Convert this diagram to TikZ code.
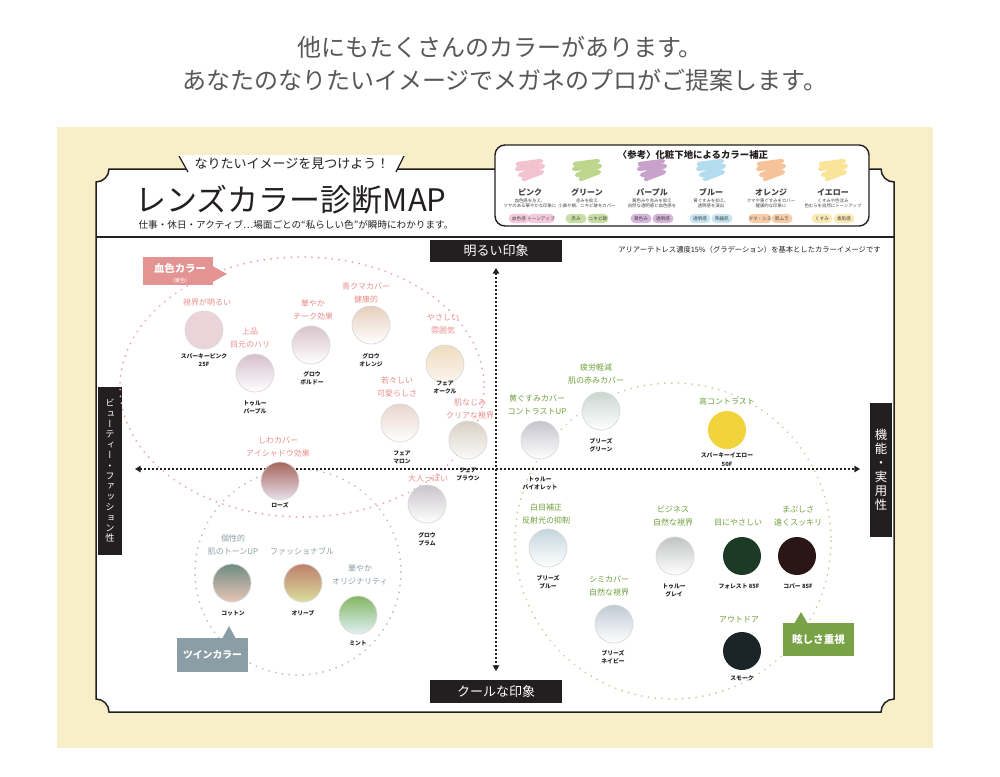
\documentclass[tikz,border=0pt]{standalone}
\usepackage{fontspec}
\setmainfont{Noto Sans CJK JP}
\newfontfamily\jpv[RawFeature=+vert]{Noto Sans CJK JP}
\usetikzlibrary{arrows.meta}
\newcommand\myfs[2]{\fontsize{#1pt}{#2pt}\selectfont}
\definecolor{ink}{HTML}{231F20}
\definecolor{cream}{HTML}{F8EEC8}
\definecolor{titlegray}{HTML}{595757}
\definecolor{pinkt}{HTML}{E98E8C}
\definecolor{grayt}{HTML}{8D9EA6}
\definecolor{greent}{HTML}{70A03C}
\definecolor{pinkbox}{HTML}{E39392}
\definecolor{graybox}{HTML}{8B9DA5}
\definecolor{greenbox}{HTML}{79A146}
\definecolor{pdotc}{HTML}{EFA2A4}
\definecolor{gdotc}{HTML}{B5BFC5}
\definecolor{ndotc}{HTML}{C9CFA2}
\definecolor{swP}{HTML}{F3C2D0}\definecolor{tgP}{HTML}{F4CADB}
\definecolor{swG}{HTML}{BCD68C}\definecolor{tgG}{HTML}{C8DEA4}
\definecolor{swU}{HTML}{C9A2CC}\definecolor{tgU}{HTML}{D5B5DA}
\definecolor{swB}{HTML}{B3DDEE}\definecolor{tgB}{HTML}{C5E6F2}
\definecolor{swO}{HTML}{F6C29A}\definecolor{tgO}{HTML}{F7CCA8}
\definecolor{swY}{HTML}{F9E49A}\definecolor{tgY}{HTML}{FAEAB5}
\newcommand\legcol[8]{%
  \draw[#3, line width=2.2pt, line join=round, line cap=round]
    (#2-12,164) -- (#2+11,161) -- (#2-13,169) -- (#2+13,166) -- (#2-10,175) -- (#2+12,172) -- (#2-6,179);
  \node[legname] (#1n) at (#2,192) {#5};
  \node[legdesc] (#1d) at (#2,203.5) {#6};
  \node[tag, fill=#4] (#1a) at (#2-11,218.5) {#7};
  \node[tag, fill=#4] (#1b) at (#2+11,218.5) {#8};
}
\begin{document}
\begin{tikzpicture}[x=0.5pt,y=-0.5pt,
  lens/.style={circle, minimum size=19pt, inner sep=0pt, draw=black!15, line width=0.35pt},
  lname/.style={font=\bfseries\myfs{2.9}{4}, align=center, text=black!85, inner sep=0pt},
  pcat/.style={font=\myfs{4}{6.5}, align=center, text=pinkt, inner sep=0pt},
  gcat/.style={font=\myfs{4}{6.5}, align=center, text=grayt, inner sep=0pt},
  ncat/.style={font=\myfs{4}{6.5}, align=center, text=greent, inner sep=0pt},
  legname/.style={font=\bfseries\myfs{4}{4}, text=ink!85, inner sep=0pt},
  legdesc/.style={font=\myfs{2.2}{2.7}, align=center, text=ink!85, inner sep=0pt},
  tag/.style={rounded corners=2.2pt, minimum width=10.4pt, minimum height=4.6pt, inner sep=0pt, font=\myfs{2.3}{2.3}, text=ink!85},
  blk/.style={fill=ink, text=white, inner sep=0pt},
  callbox/.style={inner sep=0pt, text=white},
  axis/.style={draw=ink, line width=0.6pt, dash pattern=on 0.6pt off 1.4pt},
  pdot/.style={draw=pdotc, line width=1pt, line cap=round, dash pattern=on 0.01pt off 3.4pt},
  gdot/.style={draw=gdotc, line width=1pt, line cap=round, dash pattern=on 0.01pt off 3.4pt},
  ndot/.style={draw=ndotc, line width=1pt, line cap=round, dash pattern=on 0.01pt off 3.4pt},
]
\useasboundingbox (0,0) rectangle (1000,776);
\fill[white] (0,0) rectangle (1000,776);
% top title
\node[font=\myfs{12}{12}, text=titlegray, inner sep=0pt] (t1) at (500,47) {他にもたくさんのカラーがあります。};
\node[font=\myfs{12}{12}, text=titlegray, inner sep=0pt] (t2) at (505,80) {あなたのなりたいイメージでメガネのプロがご提案します。};
% cream panel
\fill[cream] (57,127) rectangle (933,748);
% board
\draw[ink, line width=0.75pt, fill=white] (109,169) -- (881,169)
  .. controls (881,176.2) and (886.8,182) .. (894,182) -- (894,699)
  .. controls (886.8,699) and (881,704.8) .. (881,712) -- (109,712)
  .. controls (109,704.8) and (103.2,699) .. (96,699) -- (96,182)
  .. controls (103.2,182) and (109,176.2) .. (109,169) -- cycle;
% tab
\fill[white] (178,155) -- (405,155) -- (396,170.8) -- (187,170.8) -- cycle;
\draw[ink, line width=0.6pt] (179,156) -- (188,172);
\draw[ink, line width=0.6pt] (404,156) -- (396,172);
\draw[ink, line width=0.75pt] (96,237) -- (894,237);
% header texts
\node[font=\myfs{6.5}{6.5}, text=ink, inner sep=0pt] (h1) at (292,164) {なりたいイメージを見つけよう！};
\node[font=\myfs{15.5}{15.5}, text=ink, inner sep=0pt] (h2) at (291,200) {レンズカラー診断MAP};
\node[font=\myfs{4.8}{4.8}, text=ink, inner sep=0pt] (h3) at (296,225) {仕事・休日・アクティブ…場面ごとの“私らしい色”が瞬時にわかります。};
% legend
\draw[ink, line width=0.7pt, fill=white, rounded corners=5pt] (495,145) rectangle (869,226);
\node[font=\bfseries\myfs{4.7}{4.7}, text=ink, inner sep=0pt] (lgt) at (693,155) {〈参考〉化粧下地によるカラー補正};
\legcol{lp}{530}{swP}{tgP}{ピンク}{血色感を与え、\\ツヤのある華やかな印象に}{血色感}{トーンアップ}
\legcol{lg}{587}{swG}{tgG}{グリーン}{赤みを抑え\\小鼻や頬、ニキビ跡をカバー}{赤み}{ニキビ跡}
\legcol{lu}{652}{swU}{tgU}{パープル}{黄色みや赤みを抑え\\自然な透明感と血色感を}{黄色み}{透明感}
\legcol{lb}{711}{swB}{tgB}{ブルー}{黄ぐすみを抑え、\\透明感を演出}{透明感}{陶器肌}
\legcol{lo}{771}{swO}{tgO}{オレンジ}{クマや黄ぐすみをカバー\\健康的な印象に}{クマ・シミ}{肌ムラ}
\legcol{ly}{833}{swY}{tgY}{イエロー}{くすみや色沈み\\色むらを自然にトーンアップ}{くすみ}{素肌感}
% axis labels
\node[blk, minimum width=66pt, minimum height=11pt, font=\myfs{6.5}{6.5}] (ax1) at (496,251) {明るい印象};
\node[blk, minimum width=66pt, minimum height=11.5pt, font=\myfs{6.5}{6.5}] (ax2) at (496,691.5) {クールな印象};
\node[blk, minimum width=12pt, minimum height=84pt, font=\jpv\myfs{4.6}{5.2}, align=center] (ax3) at (110,471)
  {ビ\\ュ\\ー\\テ\\ィ\\ー\\・\\フ\\ァ\\ッ\\シ\\ョ\\ン\\性};
\node[blk, minimum width=11pt, minimum height=67pt, font=\myfs{6.2}{7}, align=center] (ax4) at (881,470)
  {機\\能\\・\\実\\用\\性};
\node[anchor=east, font=\myfs{3.65}{3.65}, text=ink, inner sep=0pt] (note) at (881,250)
  {アリアーテトレス濃度15\%（グラデーション）を基本としたカラーイメージです};
% dotted groups
\draw[pdot] (302,387) ellipse (182 and 130);
\draw[gdot] (298,572) circle (103);
\draw[ndot] (673,541) circle (158);
% axes
\coordinate (vt) at (496,268);
\coordinate (vb) at (496,671);
\coordinate (hl) at (135,469);
\coordinate (hr) at (860,469);
\draw[axis, {Triangle[width=3.2pt,length=2.8pt]}-{Triangle[width=3.2pt,length=2.8pt]}] (vt) -- (vb);
\draw[axis, {Triangle[width=3.2pt,length=2.8pt]}-{Triangle[width=3.2pt,length=2.8pt]}] (hl) -- (hr);
% callouts
\node[callbox, fill=pinkbox, minimum width=35pt, minimum height=14pt] (kc) at (178,271) {};
\fill[pinkbox] (212.5,266) -- (227,274) -- (212.5,282) -- cycle;
\node[font=\bfseries\myfs{5.2}{5.2}, text=white, inner sep=0pt] (kct) at (180,268) {血色カラー};
\node[font=\myfs{2.6}{2.6}, text=white, inner sep=0pt] (kcs) at (180,280.5) {（暖色）};
\node[callbox, fill=graybox, minimum width=35.5pt, minimum height=17pt, font=\bfseries\myfs{4.9}{4.9}] (tc) at (212.5,655) {ツインカラー};
\fill[graybox] (222,639) -- (229,626) -- (236,639) -- cycle;
\node[callbox, fill=greenbox, minimum width=35.5pt, minimum height=16.5pt, font=\bfseries\myfs{5.3}{5.3}] (mc) at (818.5,639.5) {眩しさ重視};
\fill[greenbox] (794,624) -- (801,612) -- (808,624) -- cycle;
% ---- pink group
\node[lens, fill={rgb,255:red,235;green,212;blue,217}] (l1) at (204,330) {};
\node[lname] (n1) at (204,360) {スパーキーピンク\\[0.3pt]25F};
\node[pcat] (c1) at (207,302) {視界が明るい};
\node[lens, top color={rgb,255:red,213;green,191;blue,203}, bottom color=white] (l2) at (255,373) {};
\node[lname] (n2) at (255,407) {トゥルー\\パープル};
\node[pcat] (c2) at (250,338) {上品\\目元のハリ};
\node[lens, top color={rgb,255:red,217;green,195;blue,203}, bottom color=white] (l3) at (311,345) {};
\node[lname] (n3) at (312,378) {グロウ\\ボルドー};
\node[pcat] (c3) at (313,309.5) {華やか\\チーク効果};
\node[lens, top color={rgb,255:red,230;green,207;blue,189}, bottom color=white] (l4) at (371,325) {};
\node[lname] (n4) at (371,360) {グロウ\\オレンジ};
\node[pcat] (c4) at (366,292.5) {青クマカバー\\健康的};
\node[lens, top color={rgb,255:red,238;green,220;blue,191}, bottom color={rgb,255:red,251;green,246;blue,238}] (l5) at (445,364) {};
\node[lname] (n5) at (445,387) {フェア\\オークル};
\node[pcat] (c5) at (443,324.5) {やさしい\\雰囲気};
\node[lens, top color={rgb,255:red,233;green,213;blue,206}, bottom color=white] (l6) at (400,423) {};
\node[lname] (n6) at (402,457) {フェア\\マロン};
\node[pcat] (c6) at (397,386.5) {若々しい\\可愛らしさ};
\node[lens, top color={rgb,255:red,217;green,208;blue,196}, bottom color={rgb,255:red,250;green,250;blue,248}] (l7) at (468,440) {};
\node[lname] (n7) at (468,474) {フェア\\ブラウン};
\node[pcat] (c7) at (470,409) {肌なじみ\\クリアな視界};
\node[lens, top color={rgb,255:red,165;green,102;blue,92}, bottom color={rgb,255:red,232;green,224;blue,234}] (l8) at (280,481) {};
\node[lname] (n8) at (280,505) {ローズ};
\node[pcat] (c8) at (278,447) {しわカバー\\アイシャドウ効果};
\node[lens, top color={rgb,255:red,201;green,197;blue,201}, bottom color=white] (l9) at (427,504) {};
\node[lname] (n9) at (427,539) {グロウ\\プラム};
\node[pcat] (c9) at (428,478) {大人っぽい};
% ---- twin group
\node[lens, top color={rgb,255:red,111;green,140;blue,130}, bottom color={rgb,255:red,232;green,198;blue,182}] (l10) at (232,583) {};
\node[lname] (n10) at (233,613) {コットン};
\node[gcat] (c10) at (233,545) {個性的\\肌のトーンUP};
\node[lens, top color={rgb,255:red,190;green,128;blue,108}, bottom color={rgb,255:red,218;green,221;blue,158}] (l11) at (303,583) {};
\node[lname] (n11) at (303,613) {オリーブ};
\node[gcat] (c11) at (302,551) {ファッショナブル};
\node[lens, top color={rgb,255:red,132;green,182;blue,99}, bottom color={rgb,255:red,224;green,240;blue,245}] (l12) at (358,615) {};
\node[lname] (n12) at (358,643) {ミント};
\node[gcat] (c12) at (360,575) {華やか\\オリジナリティ};
% ---- green group
\node[lens, top color={rgb,255:red,198;green,196;blue,206}, bottom color=white] (l13) at (540,440) {};
\node[lname] (n13) at (540,483) {トゥルー\\バイオレット};
\node[ncat] (c13) at (537,405) {黄ぐすみカバー\\コントラストUP};
\node[lens, top color={rgb,255:red,202;green,214;blue,208}, bottom color=white] (l14) at (601,411) {};
\node[lname] (n14) at (601,445) {ブリーズ\\グリーン};
\node[ncat] (c14) at (596,373.5) {疲労軽減\\肌の赤みカバー};
\node[lens, fill={rgb,255:red,241;green,211;blue,59}, draw=none] (l15) at (727,430) {};
\node[lname] (n15) at (727,459.5) {スパーキーイエロー\\[0.3pt]50F};
\node[ncat] (c15) at (727,401) {高コントラスト};
\node[lens, top color={rgb,255:red,197;green,214;blue,223}, bottom color=white] (l16) at (548,548) {};
\node[lname] (n16) at (548,582.5) {ブリーズ\\ブルー};
\node[ncat] (c16) at (546,513.5) {白目補正\\反射光の抑制};
\node[lens, top color={rgb,255:red,192;green,202;blue,212}, bottom color=white] (l17) at (614,624) {};
\node[lname] (n17) at (613,657.5) {ブリーズ\\ネイビー};
\node[ncat] (c17) at (609,586.5) {シミカバー\\自然な視界};
\node[lens, top color={rgb,255:red,194;green,196;blue,196}, bottom color=white] (l18) at (675,556) {};
\node[lname] (n18) at (674,590) {トゥルー\\グレイ};
\node[ncat] (c18) at (673,516.5) {ビジネス\\自然な視界};
\node[lens, fill={rgb,255:red,29;green,58;blue,39}, draw=none] (l19) at (742,556) {};
\node[lname] (n19) at (739,586) {フォレスト 85F};
\node[ncat] (c19) at (738,523) {目にやさしい};
\node[lens, fill={rgb,255:red,43;green,22;blue,22}, draw=none] (l20) at (797,556) {};
\node[lname] (n20) at (798,586) {コパー 85F};
\node[ncat] (c20) at (798,516.5) {まぶしさ\\遠くスッキリ};
\node[lens, fill={rgb,255:red,27;green,37;blue,39}, draw=none] (l21) at (742,651) {};
\node[lname] (n21) at (742,678) {スモーク};
\node[ncat] (c21) at (739,619) {アウトドア};
\end{tikzpicture}
\end{document}
